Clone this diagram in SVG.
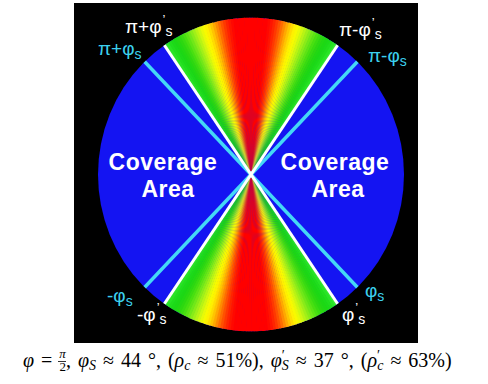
<svg xmlns="http://www.w3.org/2000/svg" width="488" height="384" viewBox="0 0 488 384">
<style>
.sl{fill:none;stroke-width:152;stroke-dasharray:1.747 240.16}
.lbl{font-family:"Liberation Sans",Arial,sans-serif;font-size:19px}
.w{fill:#ffffff}
.c{fill:#3cd0ee}
.pr{font-size:13px}
.cov{font-family:"Liberation Sans",Arial,sans-serif;font-size:23px;font-weight:bold;fill:#ffffff;text-anchor:middle;letter-spacing:0.5px}
.eq{font-family:"Liberation Serif","DejaVu Serif",serif;font-size:20px;fill:#000000;word-spacing:2px}
.i{font-style:italic}
.sub{font-size:14px}
.fr{font-size:13px}
</style>
<rect width="488" height="384" fill="#ffffff"/>
<rect x="74" y="3" width="344" height="340" fill="#000000"/>
<g id="disc" transform="translate(251,174.5) scale(1,1.025)">
<circle r="153" fill="#1414f2"/>
<g id="sectors">
<circle class="sl" r="77" stroke="#34ea30" transform="rotate(-124.65)"/>
<circle class="sl" r="77" stroke="#28e424" transform="rotate(-123.65)"/>
<circle class="sl" r="77" stroke="#20de1c" transform="rotate(-122.65)"/>
<circle class="sl" r="77" stroke="#1cda18" transform="rotate(-121.65)"/>
<circle class="sl" r="77" stroke="#1cd814" transform="rotate(-120.65)"/>
<circle class="sl" r="77" stroke="#22d812" transform="rotate(-119.65)"/>
<circle class="sl" r="77" stroke="#2cd810" transform="rotate(-118.65)"/>
<circle class="sl" r="77" stroke="#38dc10" transform="rotate(-117.65)"/>
<circle class="sl" r="77" stroke="#48e010" transform="rotate(-116.65)"/>
<circle class="sl" r="77" stroke="#5ce414" transform="rotate(-115.65)"/>
<circle class="sl" r="77" stroke="#70e818" transform="rotate(-114.65)"/>
<circle class="sl" r="77" stroke="#88ec18" transform="rotate(-113.65)"/>
<circle class="sl" r="77" stroke="#a0f018" transform="rotate(-112.65)"/>
<circle class="sl" r="77" stroke="#b8f414" transform="rotate(-111.65)"/>
<circle class="sl" r="77" stroke="#d0f810" transform="rotate(-110.65)"/>
<circle class="sl" r="77" stroke="#e8fa08" transform="rotate(-109.65)"/>
<circle class="sl" r="77" stroke="#f8fa00" transform="rotate(-108.65)"/>
<circle class="sl" r="77" stroke="#fff000" transform="rotate(-107.65)"/>
<circle class="sl" r="77" stroke="#ffdc00" transform="rotate(-106.65)"/>
<circle class="sl" r="77" stroke="#ffc400" transform="rotate(-105.65)"/>
<circle class="sl" r="77" stroke="#ffa800" transform="rotate(-104.65)"/>
<circle class="sl" r="77" stroke="#ff8a00" transform="rotate(-103.65)"/>
<circle class="sl" r="77" stroke="#ff6c00" transform="rotate(-102.65)"/>
<circle class="sl" r="77" stroke="#ff5000" transform="rotate(-101.65)"/>
<circle class="sl" r="77" stroke="#ff3800" transform="rotate(-100.65)"/>
<circle class="sl" r="77" stroke="#ff2400" transform="rotate(-99.65)"/>
<circle class="sl" r="77" stroke="#ff1400" transform="rotate(-98.65)"/>
<circle class="sl" r="77" stroke="#ff0800" transform="rotate(-97.65)"/>
<circle class="sl" r="77" stroke="#ff0000" transform="rotate(-96.65)"/>
<circle class="sl" r="77" stroke="#ff0000" transform="rotate(-95.65)"/>
<circle class="sl" r="77" stroke="#ff0000" transform="rotate(-94.65)"/>
<circle class="sl" r="77" stroke="#ff0000" transform="rotate(-93.65)"/>
<circle class="sl" r="77" stroke="#ff0000" transform="rotate(-92.65)"/>
<circle class="sl" r="77" stroke="#ff0000" transform="rotate(-91.65)"/>
<circle class="sl" r="77" stroke="#ff0000" transform="rotate(-90.65)"/>
<circle class="sl" r="77" stroke="#ff0000" transform="rotate(-89.65)"/>
<circle class="sl" r="77" stroke="#ff0000" transform="rotate(-88.65)"/>
<circle class="sl" r="77" stroke="#ff0000" transform="rotate(-87.65)"/>
<circle class="sl" r="77" stroke="#ff0000" transform="rotate(-86.65)"/>
<circle class="sl" r="77" stroke="#ff0000" transform="rotate(-85.65)"/>
<circle class="sl" r="77" stroke="#ff0000" transform="rotate(-84.65)"/>
<circle class="sl" r="77" stroke="#ff0800" transform="rotate(-83.65)"/>
<circle class="sl" r="77" stroke="#ff1400" transform="rotate(-82.65)"/>
<circle class="sl" r="77" stroke="#ff2400" transform="rotate(-81.65)"/>
<circle class="sl" r="77" stroke="#ff3800" transform="rotate(-80.65)"/>
<circle class="sl" r="77" stroke="#ff5000" transform="rotate(-79.65)"/>
<circle class="sl" r="77" stroke="#ff6c00" transform="rotate(-78.65)"/>
<circle class="sl" r="77" stroke="#ff8a00" transform="rotate(-77.65)"/>
<circle class="sl" r="77" stroke="#ffa800" transform="rotate(-76.65)"/>
<circle class="sl" r="77" stroke="#ffc400" transform="rotate(-75.65)"/>
<circle class="sl" r="77" stroke="#ffdc00" transform="rotate(-74.65)"/>
<circle class="sl" r="77" stroke="#fff000" transform="rotate(-73.65)"/>
<circle class="sl" r="77" stroke="#f8fa00" transform="rotate(-72.65)"/>
<circle class="sl" r="77" stroke="#e8fa08" transform="rotate(-71.65)"/>
<circle class="sl" r="77" stroke="#d0f810" transform="rotate(-70.65)"/>
<circle class="sl" r="77" stroke="#b8f414" transform="rotate(-69.65)"/>
<circle class="sl" r="77" stroke="#a0f018" transform="rotate(-68.65)"/>
<circle class="sl" r="77" stroke="#88ec18" transform="rotate(-67.65)"/>
<circle class="sl" r="77" stroke="#70e818" transform="rotate(-66.65)"/>
<circle class="sl" r="77" stroke="#5ce414" transform="rotate(-65.65)"/>
<circle class="sl" r="77" stroke="#48e010" transform="rotate(-64.65)"/>
<circle class="sl" r="77" stroke="#38dc10" transform="rotate(-63.65)"/>
<circle class="sl" r="77" stroke="#2cd810" transform="rotate(-62.65)"/>
<circle class="sl" r="77" stroke="#22d812" transform="rotate(-61.65)"/>
<circle class="sl" r="77" stroke="#1cd814" transform="rotate(-60.65)"/>
<circle class="sl" r="77" stroke="#1cda18" transform="rotate(-59.65)"/>
<circle class="sl" r="77" stroke="#20de1c" transform="rotate(-58.65)"/>
<circle class="sl" r="77" stroke="#28e424" transform="rotate(-57.65)"/>
<circle class="sl" r="77" stroke="#34ea30" transform="rotate(-56.65)"/>
</g>
<g id="lines" stroke-linecap="butt">
<line x1="-106.3" y1="-110" x2="106.3" y2="110" stroke="#44d8f6" stroke-width="3.5"/>
<line x1="106.3" y1="-110" x2="-106.3" y2="110" stroke="#44d8f6" stroke-width="3.5"/>
<line x1="-86.6" y1="-126.1" x2="86.6" y2="126.1" stroke="#ffffff" stroke-width="3"/>
<line x1="86.6" y1="-126.1" x2="-86.6" y2="126.1" stroke="#ffffff" stroke-width="3"/>
</g>
</g>
<g id="coverage-left">
<text class="cov" x="163" y="170">Coverage</text>
<text class="cov" x="168" y="197">Area</text>
</g>
<g id="coverage-right">
<text class="cov" x="335" y="170">Coverage</text>
<text class="cov" x="338" y="197">Area</text>
</g>
<g id="angle-labels">
<text class="lbl w" x="125" y="33">π+φ<tspan class="pr" dx="1" dy="-9">’</tspan><tspan class="sub" dy="12">s</tspan></text>
<text class="lbl c" x="98" y="55">π+φ<tspan class="sub" dy="4">s</tspan></text>
<text class="lbl w" x="339" y="36">π-φ<tspan class="pr" dx="1" dy="-9">’</tspan><tspan class="sub" dy="12">s</tspan></text>
<text class="lbl c" x="368" y="62">π-φ<tspan class="sub" dy="4">s</tspan></text>
<text class="lbl c" x="107" y="302">-φ<tspan class="sub" dy="4">s</tspan></text>
<text class="lbl w" x="137" y="321">-φ<tspan class="pr" dx="1" dy="-9">’</tspan><tspan class="sub" dy="12">s</tspan></text>
<text class="lbl c" x="365" y="297">φ<tspan class="sub" dy="4">s</tspan></text>
<text class="lbl w" x="342" y="321">φ<tspan class="pr" dx="1" dy="-9">’</tspan><tspan class="sub" dy="12">s</tspan></text>
</g>
<g id="caption">
<text class="eq" x="23" y="367"><tspan class="i">φ</tspan> = <tspan class="i fr" dy="-9">π</tspan><tspan class="fr" dx="-6.5" dy="13">2</tspan><tspan dy="-4">, </tspan><tspan class="i">φ</tspan><tspan class="i sub" dy="3">S</tspan><tspan dy="-3"> ≈ 44 °, (</tspan><tspan class="i">ρ</tspan><tspan class="i sub" dy="3">c</tspan><tspan dy="-3"> ≈ 51%), </tspan><tspan class="i">φ</tspan><tspan class="sub" dy="-7">′</tspan><tspan class="i sub" dx="-3" dy="10">S</tspan><tspan dy="-3"> ≈ 37 °, (</tspan><tspan class="i">ρ</tspan><tspan class="sub" dy="-7">′</tspan><tspan class="i sub" dx="-3" dy="10">c</tspan><tspan dy="-3"> ≈ 63%)</tspan></text>
<line x1="58" y1="361.5" x2="66" y2="361.5" stroke="#000000" stroke-width="0.8"/>
</g>
</svg>
